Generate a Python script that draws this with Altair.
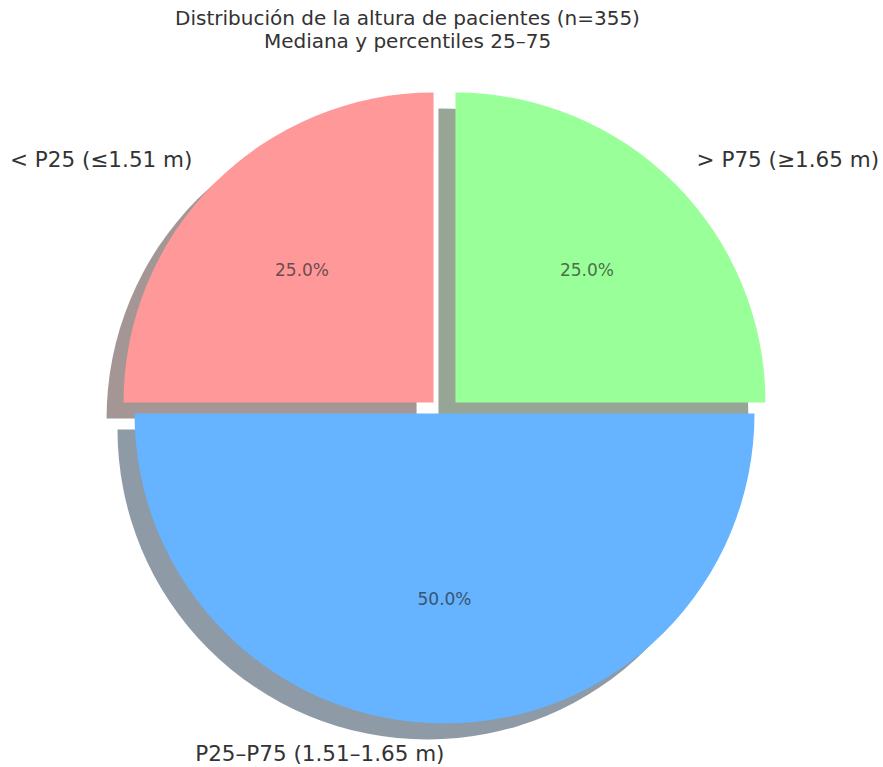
import math

import altair as alt
import numpy as np
import pandas as pd

# Height groups around the 25th and 75th percentiles (n = 355)
etiquetas = ["< P25 (≤1.51 m)", "P25–P75 (1.51–1.65 m)", "> P75 (≥1.65 m)"]
porcentajes = [25.0, 50.0, 25.0]
colores = ["#ff9999", "#66b3ff", "#99ff99"]
explode = [0.05, 0.0, 0.05]

titulo = ["Distribución de la altura de pacientes (n=355)", "Mediana y percentiles 25–75"]

# Shadow tone: 30 % of the wedge colour, drawn half transparent
sombras = ["#%02x%02x%02x" % tuple(int(int(c[i:i + 2], 16) * 0.3) for i in (1, 3, 5)) for c in colores]

fin = np.cumsum(porcentajes)
ini = fin - np.array(porcentajes)
df = pd.DataFrame({
    "etiqueta": etiquetas,
    "pct": porcentajes,
    "ini": ini,
    "fin": fin,
    "mid": (ini + fin) / 2,
})

R = 310                      # pie radius in px
SOMBRA_DX, SOMBRA_DY = -17, 16
FONT = "DejaVu Sans"
TXT = "#333333"

# counter-clockwise from 12 o'clock, like startangle=90
theta_scale = alt.Scale(domain=[0, 100], range=[2 * math.pi, 0])
fill_scale = alt.Scale(domain=etiquetas, range=colores)

base = alt.Chart(df).transform_calculate(
    pct_txt="format(datum.pct, '.1f') + '%'"
)

sombras_l, cunas_l, textos_l = [], [], []
for etq, frac, mid, sombra in zip(etiquetas, explode, df["mid"], sombras):
    ang = math.radians(90 + mid / 100 * 360)
    dx = frac * R * math.cos(ang)
    dy = -frac * R * math.sin(ang)
    sel = base.transform_filter(alt.datum.etiqueta == etq)

    sombras_l.append(
        sel.mark_arc(radius=R, opacity=0.5, xOffset=dx + SOMBRA_DX, yOffset=dy + SOMBRA_DY).encode(
            theta=alt.Theta("ini:Q", scale=theta_scale),
            theta2="fin:Q",
            fill=alt.value(sombra),
        )
    )
    cunas_l.append(
        sel.mark_arc(radius=R, xOffset=dx, yOffset=dy).encode(
            theta=alt.Theta("ini:Q", scale=theta_scale),
            theta2="fin:Q",
            fill=alt.Fill("etiqueta:N", scale=fill_scale, legend=None),
        )
    )
    textos_l.append(
        sel.mark_text(radius=0.6 * R, xOffset=dx, yOffset=dy, font=FONT, fontSize=17,
                      color="#222222", opacity=0.65, align="center", baseline="middle").encode(
            theta=alt.Theta("mid:Q", scale=theta_scale, stack=False),
            text="pct_txt:N",
        )
    )
    alinea = "right" if math.cos(ang) < 0 else "left"
    textos_l.append(
        sel.mark_text(radius=1.1 * R, xOffset=dx, yOffset=dy, font=FONT, fontSize=21.5,
                      color=TXT, align=alinea, baseline="middle").encode(
            theta=alt.Theta("mid:Q", scale=theta_scale, stack=False),
            text="etiqueta:N",
        )
    )

chart = alt.layer(*sombras_l, *cunas_l, *textos_l).properties(
    width=877,
    height=707,
    padding={"left": 6, "top": 60, "right": 0, "bottom": 0},
    autosize=alt.AutoSizeParams(type="none"),
    title=alt.Title(titulo, font=FONT, fontSize=20, fontWeight="normal", color=TXT,
                    anchor="middle", dx=-37, offset=8, lineHeight=23),
).configure_view(stroke=None)

chart.save("out.html", embed_options={"renderer": "svg", "actions": False})
